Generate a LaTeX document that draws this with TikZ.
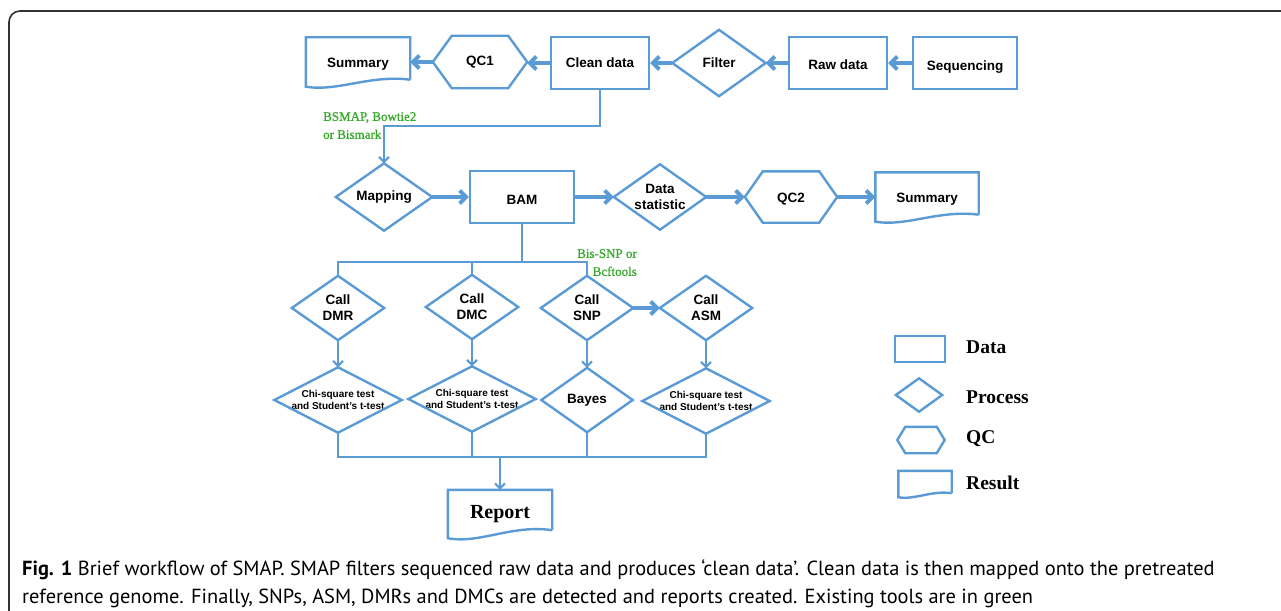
\documentclass[tikz,border=0pt]{standalone}
\usepackage{fontspec}
\setmainfont{Liberation Serif}
\setsansfont{Liberation Sans}
\newfontfamily\capfont{PT Sans}
\newfontfamily\toolfont{Liberation Serif}[FakeBold=0.7]
\usetikzlibrary{arrows.meta,calc}
\definecolor{flowblue}{RGB}{91,155,213}
\definecolor{toolgreen}{RGB}{52,168,40}
\definecolor{framegray}{RGB}{50,50,50}

% outlines drawn around plain rectangular nodes
\newcommand\shapediamond[1]{\draw[shapeline] (#1.north) -- (#1.east) -- (#1.south) -- (#1.west) -- cycle;}
\newcommand\shapehex[2]{\draw[shapeline] (#1.west) -- ([xshift=#2pt]#1.north west) -- ([xshift=-#2pt]#1.north east) -- (#1.east) -- ([xshift=-#2pt]#1.south east) -- ([xshift=#2pt]#1.south west) -- cycle;}
\newcommand\shapedoc[2]{\draw[shapeline] ($(#1.south east)+(0,-#2)$) -- (#1.north east) -- (#1.north west) -- (#1.south west)
  .. controls ($(#1.south west)!0.3!(#1.south east)+(0,{0.75*#2})$) and ($(#1.south west)!0.62!(#1.south east)+(0,{-1.75*#2})$) .. ($(#1.south east)+(0,-#2)$);}
% lower a label inside its node without changing the node's size
\newcommand\lowertext[2]{\raisebox{-#1pt}[\height][\depth]{#2}}

\begin{document}
\begin{tikzpicture}[x=1pt,y=-1pt,
  shapeline/.style={draw=flowblue, line width=2.4pt, line join=miter},
  sz/.style 2 args={minimum width=#1pt, minimum height=#2pt},
  lbl/.style={font=\sffamily\bfseries\fontsize{13.5}{16}\selectfont, align=center, inner sep=0pt, text=black},
  slbl/.style={font=\sffamily\bfseries\fontsize{10}{12}\selectfont, align=center, inner sep=0pt, text=black},
  area/.style={lbl, rectangle},
  databox/.style={lbl, rectangle, draw=flowblue, line width=2.4pt},
  bigarrow/.style={draw=flowblue, line width=3.8pt, -{Straight Barb[length=6.5pt,width=13pt]}},
  smallarrow/.style={draw=flowblue, line width=2pt, -{Straight Barb[length=5pt,width=10pt]}},
  link/.style={draw=flowblue, line width=2pt},
  tool/.style={font=\toolfont\fontsize{13}{18}\selectfont, text=toolgreen, inner sep=0pt},
  legendtext/.style={font=\rmfamily\bfseries\fontsize{19.5}{22}\selectfont, anchor=west, inner sep=0pt},
  frame/.style={draw=framegray, line width=1.6pt, rounded corners=11pt}]

\useasboundingbox (0,0) rectangle (1281,610);
\fill[white] (0,0) rectangle (1281,610);
\draw[frame] (9,640) -- (9,11) -- (1300,11);

% ---- top row: sequencing to clean data
\node[area, sz={104}{49}] (sum1) at (358,62) {\lowertext{2}{Summary}};
\shapedoc{sum1}{7}
\node[area, sz={94}{52}] (qc1) at (480,62) {QC1};
\shapehex{qc1}{19}
\node[databox, sz={98}{52}] (clean) at (600,63) {Clean data};
\node[area, sz={93}{66}] (filter) at (719,63) {Filter};
\shapediamond{filter}
\node[databox, sz={98}{52}] (raw) at (838,63) {\lowertext{2}{Raw data}};
\node[databox, sz={104}{52}] (seq) at (965,63) {\lowertext{4}{Sequencing}};

\draw[bigarrow] (seq.west) -- (raw.east);
\draw[bigarrow] (raw.west) -- (filter.east);
\draw[bigarrow] (filter.west) -- (clean.east);
\draw[bigarrow] (clean.west) -- (clean.west -| qc1.east);
\draw[bigarrow] (qc1.west) -- (qc1.west -| sum1.east);

% ---- second row: mapping and statistics
\node[area, sz={96}{67}] (map) at (384,197) {Mapping};
\shapediamond{map}
\node[databox, sz={104}{52}] (bam) at (522,197) {\lowertext{3}{BAM}};
\node[area, sz={92}{65}] (stat) at (660,197) {Data\\statistic};
\shapediamond{stat}
\node[area, sz={92}{51}] (qc2) at (791,197) {\lowertext{2}{QC2}};
\shapehex{qc2}{18}
\node[area, sz={103}{49}] (sum2) at (927,197) {\lowertext{2}{Summary}};
\shapedoc{sum2}{7}

\draw[smallarrow] (clean.south) -- ++(0,36) -| (map.north);
\node[tool, anchor=north west, align=left] (maptools) at (323,112) {BSMAP, Bowtie2\\or Bismark};

\draw[bigarrow] (map.east) -- (bam.west);
\draw[bigarrow] (bam.east) -- (stat.west);
\draw[bigarrow] (stat.east) -- (qc2.west);
\draw[bigarrow] (qc2.east) -- (sum2.west);

% ---- third row: calling
\node[area, sz={92}{64}] (dmr) at (338,308) {Call\\DMR};
\shapediamond{dmr}
\node[area, sz={92}{64}] (dmc) at (472,307) {Call\\DMC};
\shapediamond{dmc}
\node[area, sz={92}{64}] (snp) at (587,308) {Call\\SNP};
\shapediamond{snp}
\node[area, sz={92}{64}] (asm) at (706,308) {Call\\ASM};
\shapediamond{asm}

\coordinate (split) at (522,262);
\draw[link] (bam.south) -- (split);
\draw[link] (dmr.north) |- (split) -| (snp.north);
\draw[link] (dmc.north) -- (dmc.north |- split);
\node[tool, anchor=north east, align=right] (snptools) at (637,249) {Bis-SNP or\\Bcftools};

\draw[bigarrow] (snp.east) -- (asm.west);

% ---- fourth row: tests
\node[area, slbl, sz={127}{65}] (t1) at (338,400) {Chi-square test\\and Student's t-test};
\shapediamond{t1}
\node[area, slbl, sz={127}{65}] (t2) at (472,399) {Chi-square test\\and Student's t-test};
\shapediamond{t2}
\node[area, sz={91}{64}] (bayes) at (587,400) {Bayes};
\shapediamond{bayes}
\node[area, slbl, sz={127}{65}] (t4) at (706,401) {Chi-square test\\and Student's t-test};
\shapediamond{t4}

\draw[smallarrow] (dmr.south) -- (t1.north);
\draw[smallarrow] (dmc.south) -- (t2.north);
\draw[smallarrow] (snp.south) -- (bayes.north);
\draw[smallarrow] (asm.south) -- (t4.north);

% ---- report
\node[area, font=\rmfamily\bfseries\fontsize{20}{24}\selectfont, sz={104}{48}] (report) at (500,514) {Report};
\shapedoc{report}{8}

\coordinate (merge) at (500,457);
\draw[link] (t1.south) |- (merge) -| (t4.south);
\draw[link] (t2.south) -- (t2.south |- merge);
\draw[link] (bayes.south) -- (bayes.south |- merge);
\draw[smallarrow] (merge) -- (report.north);

% ---- legend
\node[databox, sz={50}{26}] (lgdata) at (920,349) {};
\node[legendtext] (lgdatat) at (966,347) {Data};
\node[area, sz={46}{33}] (lgproc) at (919,395) {};
\shapediamond{lgproc}
\node[legendtext] (lgproct) at (966,397) {Process};
\node[area, sz={47}{26}] (lgqc) at (921,440) {};
\shapehex{lgqc}{8}
\node[legendtext] (lgqct) at (966,439) {QC};
\node[area, sz={53}{26}] (lgres) at (925,484) {};
\shapedoc{lgres}{4}
\node[legendtext] (lgrest) at (966,483) {Result};

% ---- caption (base anchor sits on the last line)
\node[anchor=base west, inner sep=0pt, align=left, font=\capfont\fontsize{20.4}{28}\selectfont] (caption) at (22,603)
  {\textbf{Fig. 1} Brief workflow of SMAP. SMAP filters sequenced raw data and produces ‘clean data’. Clean data is then mapped onto the pretreated\\
   reference genome. Finally, SNPs, ASM, DMRs and DMCs are detected and reports created. Existing tools are in green};
\end{tikzpicture}
\end{document}
